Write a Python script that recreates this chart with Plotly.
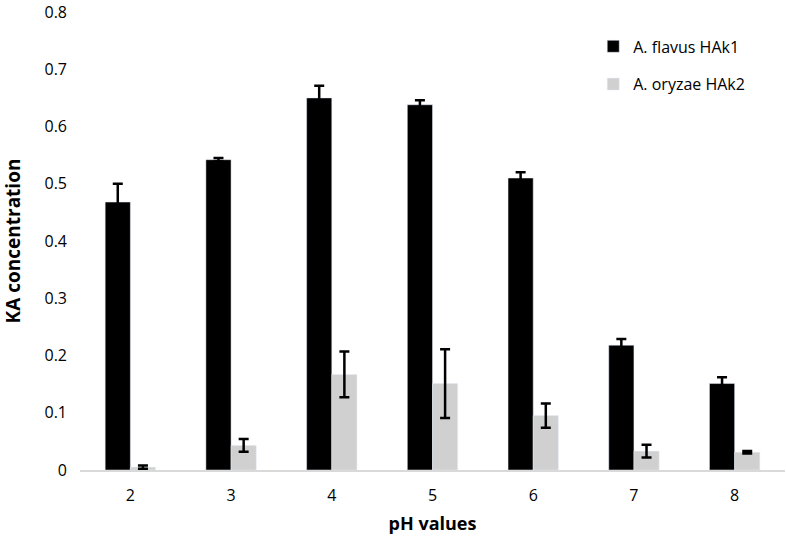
import plotly.graph_objects as go

ph_values = ["2", "3", "4", "5", "6", "7", "8"]
flavus = [0.468, 0.542, 0.650, 0.638, 0.510, 0.218, 0.151]
flavus_err = [0.032, 0.003, 0.021, 0.008, 0.010, 0.011, 0.011]
oryzae = [0.005, 0.043, 0.167, 0.151, 0.095, 0.033, 0.031]
oryzae_err = [0.003, 0.011, 0.040, 0.060, 0.021, 0.011, 0.002]
y_ticks = [0, 0.1, 0.2, 0.3, 0.4, 0.5, 0.6, 0.7, 0.8]
y_tick_labels = ["0", "0.1", "0.2", "0.3", "0.4", "0.5", "0.6", "0.7", "0.8"]

font_family = "Open Sans, Liberation Sans, sans-serif"

fig = go.Figure()
fig.add_trace(go.Bar(
    x=ph_values, y=flavus, name="A. flavus HAk1",
    marker=dict(color="#000000"),
    error_y=dict(type="data", array=flavus_err, color="#000000", thickness=2.5, width=5),
    legendgroup="a",
))
fig.add_trace(go.Bar(
    x=ph_values, y=oryzae, name="A. oryzae HAk2",
    marker=dict(color="#d0d0d0"),
    error_y=dict(type="data", array=oryzae_err, color="#000000", thickness=2.5, width=5),
    legendgroup="b",
))

fig.update_layout(
    width=786, height=540,
    margin=dict(l=80, r=1, t=12, b=70),
    paper_bgcolor="white", plot_bgcolor="white",
    barmode="group", bargap=0.5, bargroupgap=0,
    font=dict(family=font_family, size=16, color="#000000"),
    legend=dict(x=0.728, y=0.962, xanchor="left", yanchor="top",
                traceorder="grouped", tracegroupgap=14, itemwidth=30,
                font=dict(size=16), bgcolor="rgba(0,0,0,0)"),
    xaxis=dict(
        type="category", showgrid=False, showline=True, linecolor="#d9d9d9", linewidth=1.5,
        ticks="", tickfont=dict(size=16), ticklabelstandoff=10,
        title=dict(text="<b>pH values</b>", font=dict(size=18), standoff=12),
    ),
    yaxis=dict(
        range=[0, 0.8], tickvals=y_ticks, ticktext=y_tick_labels,
        showgrid=False, showline=False,
        zeroline=False, ticks="", tickfont=dict(size=16), ticklabelstandoff=12,
        title=dict(text="<b>KA concentration</b>", font=dict(size=19), standoff=20),
    ),
)

fig.write_html("out.html", config={"displayModeBar": False},
               post_script="document.body.style.margin='0';")
